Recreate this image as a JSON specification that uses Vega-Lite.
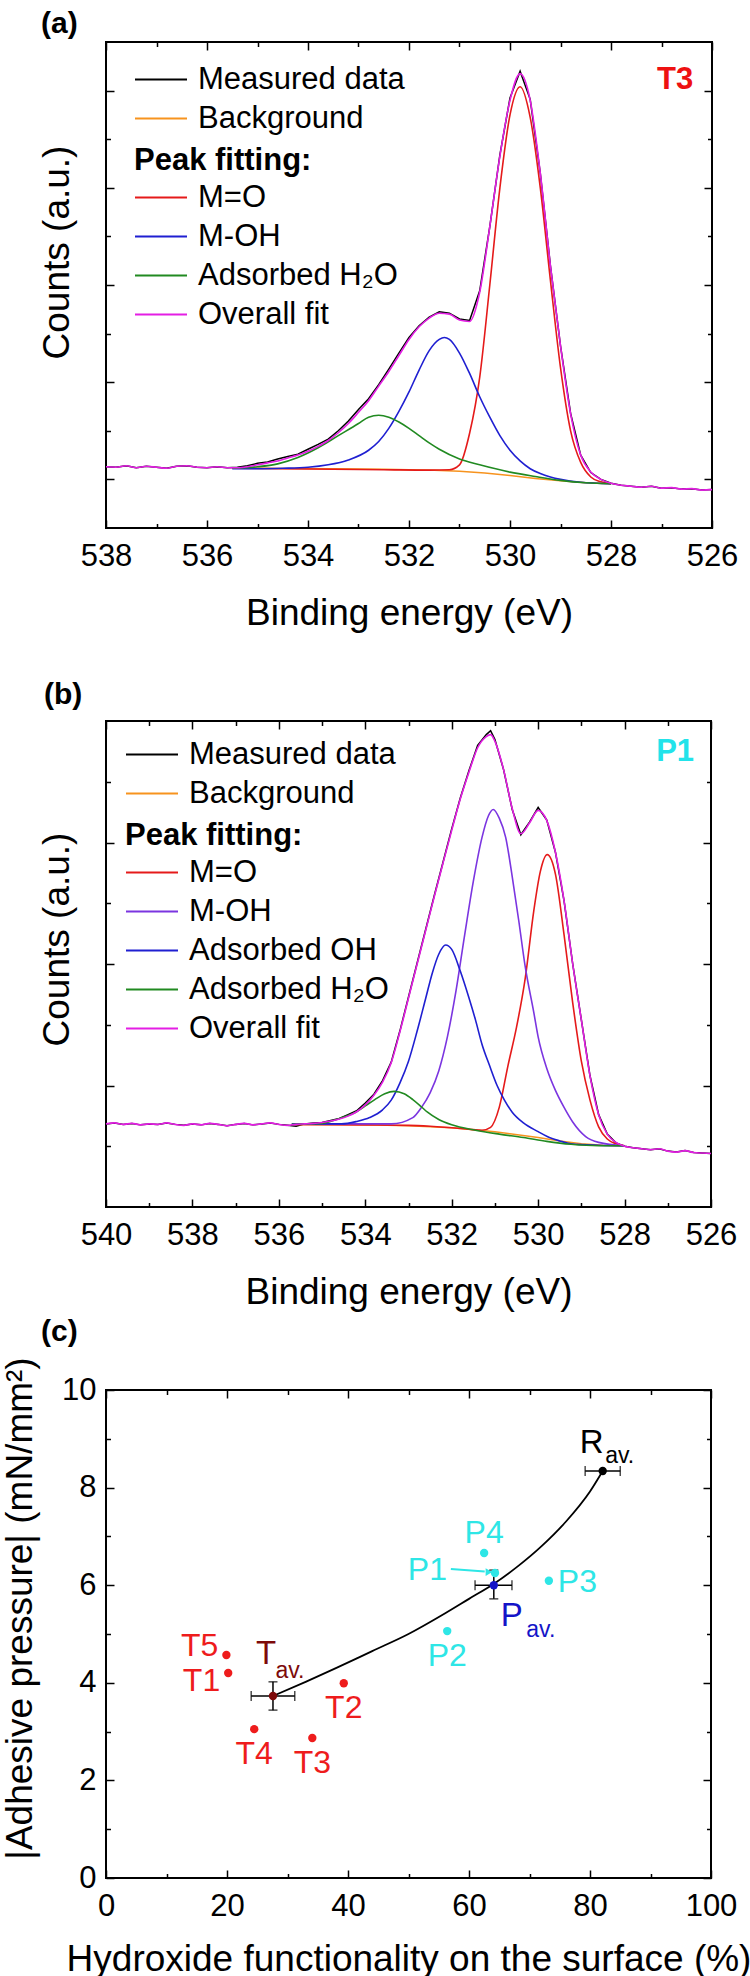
{
  "$schema": "https://vega.github.io/schema/vega-lite/v6.json",
  "padding": {"left": 0, "top": 8, "right": 5, "bottom": 5},
  "background": "white",
  "config": {
    "font": "Liberation Sans",
    "view": {"stroke": "black", "strokeWidth": 2},
    "axis": {
      "domain": false, "grid": false, "ticks": true,
      "tickColor": "black", "tickWidth": 1.5,
      "labelColor": "black", "labelFontSize": 31, "labelFont": "Liberation Sans",
      "labelFlush": false, "labelOverlap": false,
      "titleColor": "black", "titleFontSize": 37, "titleFont": "Liberation Sans", "titleFontWeight": "normal"
    },
    "legend": {"labelFont": "Liberation Sans", "titleFont": "Liberation Sans", "labelColor": "black", "titleColor": "black"},
    "title": {"font": "Liberation Sans", "color": "black"}
  },
  "datasets": {
    "a": [
      {"e":538.0,"v":1.26,"s":"Measured data"},{"e":537.8,"v":1.25,"s":"Measured data"},{"e":537.6,"v":1.28,"s":"Measured data"},{"e":537.4,"v":1.24,"s":"Measured data"},
      {"e":537.2,"v":1.27,"s":"Measured data"},{"e":537.0,"v":1.25,"s":"Measured data"},{"e":536.8,"v":1.23,"s":"Measured data"},{"e":536.6,"v":1.27,"s":"Measured data"},
      {"e":536.4,"v":1.28,"s":"Measured data"},{"e":536.2,"v":1.25,"s":"Measured data"},{"e":536.0,"v":1.24,"s":"Measured data"},{"e":535.8,"v":1.26,"s":"Measured data"},
      {"e":535.6,"v":1.24,"s":"Measured data"},{"e":535.4,"v":1.25,"s":"Measured data"},{"e":535.2,"v":1.28,"s":"Measured data"},{"e":535.0,"v":1.33,"s":"Measured data"},
      {"e":534.8,"v":1.36,"s":"Measured data"},{"e":534.6,"v":1.42,"s":"Measured data"},{"e":534.4,"v":1.47,"s":"Measured data"},{"e":534.2,"v":1.52,"s":"Measured data"},
      {"e":534.0,"v":1.62,"s":"Measured data"},{"e":533.8,"v":1.72,"s":"Measured data"},{"e":533.6,"v":1.83,"s":"Measured data"},{"e":533.4,"v":2.0,"s":"Measured data"},
      {"e":533.2,"v":2.2,"s":"Measured data"},{"e":533.0,"v":2.44,"s":"Measured data"},{"e":532.8,"v":2.66,"s":"Measured data"},{"e":532.6,"v":2.95,"s":"Measured data"},
      {"e":532.4,"v":3.27,"s":"Measured data"},{"e":532.2,"v":3.6,"s":"Measured data"},{"e":532.0,"v":3.92,"s":"Measured data"},{"e":531.8,"v":4.16,"s":"Measured data"},
      {"e":531.6,"v":4.34,"s":"Measured data"},{"e":531.4,"v":4.45,"s":"Measured data"},{"e":531.2,"v":4.42,"s":"Measured data"},{"e":531.0,"v":4.3,"s":"Measured data"},
      {"e":530.8,"v":4.27,"s":"Measured data"},{"e":530.6,"v":4.88,"s":"Measured data"},{"e":530.4,"v":6.2,"s":"Measured data"},{"e":530.2,"v":7.68,"s":"Measured data"},
      {"e":530.0,"v":8.85,"s":"Measured data"},{"e":529.8,"v":9.4,"s":"Measured data"},{"e":529.6,"v":8.82,"s":"Measured data"},{"e":529.4,"v":7.3,"s":"Measured data"},
      {"e":529.2,"v":5.4,"s":"Measured data"},{"e":529.0,"v":3.75,"s":"Measured data"},{"e":528.8,"v":2.36,"s":"Measured data"},{"e":528.6,"v":1.5,"s":"Measured data"},
      {"e":528.4,"v":1.14,"s":"Measured data"},{"e":528.2,"v":1.0,"s":"Measured data"},{"e":528.0,"v":0.92,"s":"Measured data"},{"e":527.8,"v":0.88,"s":"Measured data"},
      {"e":527.6,"v":0.86,"s":"Measured data"},{"e":527.4,"v":0.84,"s":"Measured data"},{"e":527.2,"v":0.86,"s":"Measured data"},{"e":527.0,"v":0.82,"s":"Measured data"},
      {"e":526.8,"v":0.83,"s":"Measured data"},{"e":526.6,"v":0.8,"s":"Measured data"},{"e":526.4,"v":0.81,"s":"Measured data"},{"e":526.2,"v":0.78,"s":"Measured data"},
      {"e":526.0,"v":0.79,"s":"Measured data"},

      {"e":535.5,"v":1.23,"s":"Background"},{"e":534.5,"v":1.225,"s":"Background"},{"e":533.5,"v":1.22,"s":"Background"},{"e":532.5,"v":1.21,"s":"Background"},
      {"e":531.5,"v":1.19,"s":"Background"},{"e":531.0,"v":1.17,"s":"Background"},{"e":530.5,"v":1.13,"s":"Background"},{"e":530.0,"v":1.08,"s":"Background"},
      {"e":529.5,"v":1.02,"s":"Background"},{"e":529.0,"v":0.97,"s":"Background"},{"e":528.5,"v":0.93,"s":"Background"},{"e":528.0,"v":0.91,"s":"Background"},

      {"e":535.5,"v":1.23,"s":"M=O"},{"e":534.5,"v":1.22,"s":"M=O"},{"e":533.5,"v":1.21,"s":"M=O"},{"e":532.5,"v":1.2,"s":"M=O"},
      {"e":531.6,"v":1.19,"s":"M=O"},{"e":531.2,"v":1.2,"s":"M=O"},{"e":531.0,"v":1.3,"s":"M=O"},{"e":530.8,"v":1.95,"s":"M=O"},
      {"e":530.6,"v":3.1,"s":"M=O"},{"e":530.4,"v":5.0,"s":"M=O"},{"e":530.2,"v":7.0,"s":"M=O"},{"e":530.0,"v":8.5,"s":"M=O"},
      {"e":529.8,"v":9.08,"s":"M=O"},{"e":529.6,"v":8.45,"s":"M=O"},{"e":529.4,"v":7.0,"s":"M=O"},{"e":529.2,"v":5.1,"s":"M=O"},
      {"e":529.0,"v":3.3,"s":"M=O"},{"e":528.8,"v":2.0,"s":"M=O"},{"e":528.6,"v":1.35,"s":"M=O"},{"e":528.4,"v":1.05,"s":"M=O"},
      {"e":528.2,"v":0.95,"s":"M=O"},{"e":528.0,"v":0.91,"s":"M=O"},

      {"e":535.5,"v":1.22,"s":"M-OH"},{"e":535.0,"v":1.22,"s":"M-OH"},{"e":534.5,"v":1.23,"s":"M-OH"},{"e":534.0,"v":1.25,"s":"M-OH"},
      {"e":533.6,"v":1.3,"s":"M-OH"},{"e":533.2,"v":1.4,"s":"M-OH"},{"e":532.8,"v":1.6,"s":"M-OH"},{"e":532.6,"v":1.78,"s":"M-OH"},
      {"e":532.4,"v":2.05,"s":"M-OH"},{"e":532.2,"v":2.4,"s":"M-OH"},{"e":532.0,"v":2.8,"s":"M-OH"},{"e":531.8,"v":3.25,"s":"M-OH"},
      {"e":531.6,"v":3.65,"s":"M-OH"},{"e":531.4,"v":3.88,"s":"M-OH"},{"e":531.3,"v":3.92,"s":"M-OH"},{"e":531.2,"v":3.88,"s":"M-OH"},
      {"e":531.0,"v":3.6,"s":"M-OH"},{"e":530.8,"v":3.18,"s":"M-OH"},{"e":530.6,"v":2.7,"s":"M-OH"},{"e":530.4,"v":2.28,"s":"M-OH"},
      {"e":530.2,"v":1.9,"s":"M-OH"},{"e":530.0,"v":1.6,"s":"M-OH"},{"e":529.8,"v":1.38,"s":"M-OH"},{"e":529.6,"v":1.22,"s":"M-OH"},
      {"e":529.4,"v":1.12,"s":"M-OH"},{"e":529.2,"v":1.05,"s":"M-OH"},{"e":529.0,"v":1.0,"s":"M-OH"},{"e":528.6,"v":0.94,"s":"M-OH"},
      {"e":528.0,"v":0.91,"s":"M-OH"},

      {"e":535.5,"v":1.23,"s":"Adsorbed H₂O"},{"e":535.0,"v":1.26,"s":"Adsorbed H₂O"},{"e":534.6,"v":1.32,"s":"Adsorbed H₂O"},{"e":534.2,"v":1.45,"s":"Adsorbed H₂O"},
      {"e":533.8,"v":1.65,"s":"Adsorbed H₂O"},{"e":533.4,"v":1.9,"s":"Adsorbed H₂O"},{"e":533.0,"v":2.15,"s":"Adsorbed H₂O"},{"e":532.8,"v":2.28,"s":"Adsorbed H₂O"},
      {"e":532.6,"v":2.32,"s":"Adsorbed H₂O"},{"e":532.4,"v":2.28,"s":"Adsorbed H₂O"},{"e":532.2,"v":2.18,"s":"Adsorbed H₂O"},{"e":532.0,"v":2.05,"s":"Adsorbed H₂O"},
      {"e":531.8,"v":1.9,"s":"Adsorbed H₂O"},{"e":531.6,"v":1.75,"s":"Adsorbed H₂O"},{"e":531.4,"v":1.62,"s":"Adsorbed H₂O"},{"e":531.0,"v":1.42,"s":"Adsorbed H₂O"},
      {"e":530.6,"v":1.3,"s":"Adsorbed H₂O"},{"e":530.0,"v":1.15,"s":"Adsorbed H₂O"},{"e":529.5,"v":1.06,"s":"Adsorbed H₂O"},{"e":529.0,"v":0.98,"s":"Adsorbed H₂O"},
      {"e":528.5,"v":0.93,"s":"Adsorbed H₂O"},{"e":528.0,"v":0.91,"s":"Adsorbed H₂O"},

      {"e":538.0,"v":1.26,"s":"Overall fit"},{"e":537.8,"v":1.25,"s":"Overall fit"},{"e":537.6,"v":1.28,"s":"Overall fit"},{"e":537.4,"v":1.24,"s":"Overall fit"},
      {"e":537.2,"v":1.27,"s":"Overall fit"},{"e":537.0,"v":1.25,"s":"Overall fit"},{"e":536.8,"v":1.23,"s":"Overall fit"},{"e":536.6,"v":1.27,"s":"Overall fit"},
      {"e":536.4,"v":1.28,"s":"Overall fit"},{"e":536.2,"v":1.25,"s":"Overall fit"},{"e":536.0,"v":1.24,"s":"Overall fit"},{"e":535.8,"v":1.26,"s":"Overall fit"},
      {"e":535.6,"v":1.24,"s":"Overall fit"},{"e":535.4,"v":1.24,"s":"Overall fit"},{"e":535.2,"v":1.26,"s":"Overall fit"},{"e":535.0,"v":1.3,"s":"Overall fit"},
      {"e":534.8,"v":1.34,"s":"Overall fit"},{"e":534.6,"v":1.38,"s":"Overall fit"},{"e":534.4,"v":1.44,"s":"Overall fit"},{"e":534.2,"v":1.5,"s":"Overall fit"},
      {"e":534.0,"v":1.58,"s":"Overall fit"},{"e":533.8,"v":1.68,"s":"Overall fit"},{"e":533.6,"v":1.8,"s":"Overall fit"},{"e":533.4,"v":1.96,"s":"Overall fit"},
      {"e":533.2,"v":2.15,"s":"Overall fit"},{"e":533.0,"v":2.38,"s":"Overall fit"},{"e":532.8,"v":2.62,"s":"Overall fit"},{"e":532.6,"v":2.92,"s":"Overall fit"},
      {"e":532.4,"v":3.22,"s":"Overall fit"},{"e":532.2,"v":3.55,"s":"Overall fit"},{"e":532.0,"v":3.88,"s":"Overall fit"},{"e":531.8,"v":4.14,"s":"Overall fit"},
      {"e":531.6,"v":4.32,"s":"Overall fit"},{"e":531.4,"v":4.42,"s":"Overall fit"},{"e":531.2,"v":4.4,"s":"Overall fit"},{"e":531.0,"v":4.28,"s":"Overall fit"},
      {"e":530.8,"v":4.25,"s":"Overall fit"},{"e":530.6,"v":4.85,"s":"Overall fit"},{"e":530.4,"v":6.2,"s":"Overall fit"},{"e":530.2,"v":7.65,"s":"Overall fit"},
      {"e":530.0,"v":8.8,"s":"Overall fit"},{"e":529.8,"v":9.35,"s":"Overall fit"},{"e":529.6,"v":8.8,"s":"Overall fit"},{"e":529.4,"v":7.3,"s":"Overall fit"},
      {"e":529.2,"v":5.4,"s":"Overall fit"},{"e":529.0,"v":3.75,"s":"Overall fit"},{"e":528.8,"v":2.35,"s":"Overall fit"},{"e":528.6,"v":1.5,"s":"Overall fit"},
      {"e":528.4,"v":1.15,"s":"Overall fit"},{"e":528.2,"v":1.0,"s":"Overall fit"},{"e":528.0,"v":0.92,"s":"Overall fit"},{"e":527.8,"v":0.88,"s":"Overall fit"},
      {"e":527.6,"v":0.86,"s":"Overall fit"},{"e":527.4,"v":0.84,"s":"Overall fit"},{"e":527.2,"v":0.86,"s":"Overall fit"},{"e":527.0,"v":0.82,"s":"Overall fit"},
      {"e":526.8,"v":0.83,"s":"Overall fit"},{"e":526.6,"v":0.8,"s":"Overall fit"},{"e":526.4,"v":0.81,"s":"Overall fit"},{"e":526.2,"v":0.78,"s":"Overall fit"},
      {"e":526.0,"v":0.79,"s":"Overall fit"}
    ],
    "b": [
      {"e":540.0,"v":1.71,"s":"Measured data"},{"e":539.8,"v":1.73,"s":"Measured data"},{"e":539.6,"v":1.7,"s":"Measured data"},{"e":539.4,"v":1.72,"s":"Measured data"},
      {"e":539.2,"v":1.69,"s":"Measured data"},{"e":539.0,"v":1.71,"s":"Measured data"},{"e":538.8,"v":1.7,"s":"Measured data"},{"e":538.6,"v":1.73,"s":"Measured data"},
      {"e":538.4,"v":1.7,"s":"Measured data"},{"e":538.2,"v":1.68,"s":"Measured data"},{"e":538.0,"v":1.71,"s":"Measured data"},{"e":537.8,"v":1.69,"s":"Measured data"},
      {"e":537.6,"v":1.72,"s":"Measured data"},{"e":537.4,"v":1.7,"s":"Measured data"},{"e":537.2,"v":1.67,"s":"Measured data"},{"e":537.0,"v":1.7,"s":"Measured data"},
      {"e":536.8,"v":1.72,"s":"Measured data"},{"e":536.6,"v":1.69,"s":"Measured data"},{"e":536.4,"v":1.71,"s":"Measured data"},{"e":536.2,"v":1.73,"s":"Measured data"},
      {"e":536.0,"v":1.7,"s":"Measured data"},{"e":535.8,"v":1.68,"s":"Measured data"},{"e":535.6,"v":1.66,"s":"Measured data"},{"e":535.4,"v":1.71,"s":"Measured data"},
      {"e":535.2,"v":1.73,"s":"Measured data"},{"e":535.0,"v":1.74,"s":"Measured data"},{"e":534.8,"v":1.78,"s":"Measured data"},{"e":534.6,"v":1.82,"s":"Measured data"},
      {"e":534.4,"v":1.9,"s":"Measured data"},{"e":534.2,"v":1.98,"s":"Measured data"},{"e":534.0,"v":2.14,"s":"Measured data"},{"e":533.8,"v":2.32,"s":"Measured data"},
      {"e":533.6,"v":2.6,"s":"Measured data"},{"e":533.4,"v":2.98,"s":"Measured data"},{"e":533.2,"v":3.62,"s":"Measured data"},{"e":533.0,"v":4.32,"s":"Measured data"},
      {"e":532.8,"v":5.02,"s":"Measured data"},{"e":532.6,"v":5.72,"s":"Measured data"},{"e":532.4,"v":6.42,"s":"Measured data"},{"e":532.2,"v":7.1,"s":"Measured data"},
      {"e":532.0,"v":7.78,"s":"Measured data"},{"e":531.8,"v":8.42,"s":"Measured data"},{"e":531.6,"v":8.98,"s":"Measured data"},{"e":531.4,"v":9.5,"s":"Measured data"},
      {"e":531.2,"v":9.72,"s":"Measured data"},{"e":531.1,"v":9.8,"s":"Measured data"},{"e":531.0,"v":9.62,"s":"Measured data"},{"e":530.8,"v":9.0,"s":"Measured data"},
      {"e":530.6,"v":8.18,"s":"Measured data"},{"e":530.4,"v":7.66,"s":"Measured data"},{"e":530.2,"v":7.92,"s":"Measured data"},{"e":530.0,"v":8.22,"s":"Measured data"},
      {"e":529.8,"v":7.96,"s":"Measured data"},{"e":529.6,"v":7.3,"s":"Measured data"},{"e":529.4,"v":6.3,"s":"Measured data"},{"e":529.2,"v":5.0,"s":"Measured data"},
      {"e":529.0,"v":3.85,"s":"Measured data"},{"e":528.8,"v":2.7,"s":"Measured data"},{"e":528.6,"v":1.9,"s":"Measured data"},{"e":528.4,"v":1.5,"s":"Measured data"},
      {"e":528.2,"v":1.32,"s":"Measured data"},{"e":528.0,"v":1.25,"s":"Measured data"},{"e":527.8,"v":1.22,"s":"Measured data"},{"e":527.6,"v":1.2,"s":"Measured data"},
      {"e":527.4,"v":1.18,"s":"Measured data"},{"e":527.2,"v":1.2,"s":"Measured data"},{"e":527.0,"v":1.15,"s":"Measured data"},{"e":526.8,"v":1.13,"s":"Measured data"},
      {"e":526.6,"v":1.16,"s":"Measured data"},{"e":526.4,"v":1.12,"s":"Measured data"},{"e":526.2,"v":1.11,"s":"Measured data"},{"e":526.0,"v":1.1,"s":"Measured data"},

      {"e":535.7,"v":1.7,"s":"Background"},{"e":534.0,"v":1.69,"s":"Background"},{"e":533.0,"v":1.67,"s":"Background"},{"e":532.0,"v":1.63,"s":"Background"},
      {"e":531.0,"v":1.55,"s":"Background"},{"e":530.0,"v":1.43,"s":"Background"},{"e":529.5,"v":1.36,"s":"Background"},{"e":529.0,"v":1.3,"s":"Background"},
      {"e":528.5,"v":1.27,"s":"Background"},{"e":528.0,"v":1.26,"s":"Background"},

      {"e":535.7,"v":1.7,"s":"M=O"},{"e":534.0,"v":1.69,"s":"M=O"},{"e":533.0,"v":1.68,"s":"M=O"},{"e":532.5,"v":1.66,"s":"M=O"},
      {"e":532.0,"v":1.63,"s":"M=O"},{"e":531.6,"v":1.6,"s":"M=O"},{"e":531.3,"v":1.58,"s":"M=O"},{"e":531.1,"v":1.64,"s":"M=O"},
      {"e":530.9,"v":2.05,"s":"M=O"},{"e":530.7,"v":2.9,"s":"M=O"},{"e":530.5,"v":3.7,"s":"M=O"},{"e":530.3,"v":4.7,"s":"M=O"},
      {"e":530.1,"v":6.1,"s":"M=O"},{"e":529.95,"v":6.9,"s":"M=O"},{"e":529.79,"v":7.25,"s":"M=O"},{"e":529.6,"v":6.85,"s":"M=O"},
      {"e":529.4,"v":5.6,"s":"M=O"},{"e":529.2,"v":4.2,"s":"M=O"},{"e":529.0,"v":3.0,"s":"M=O"},{"e":528.8,"v":2.2,"s":"M=O"},
      {"e":528.6,"v":1.65,"s":"M=O"},{"e":528.4,"v":1.4,"s":"M=O"},{"e":528.2,"v":1.3,"s":"M=O"},{"e":528.0,"v":1.26,"s":"M=O"},

      {"e":535.7,"v":1.71,"s":"M-OH"},{"e":534.0,"v":1.71,"s":"M-OH"},{"e":533.4,"v":1.71,"s":"M-OH"},{"e":532.9,"v":1.84,"s":"M-OH"},
      {"e":532.7,"v":2.05,"s":"M-OH"},{"e":532.5,"v":2.35,"s":"M-OH"},{"e":532.3,"v":2.8,"s":"M-OH"},{"e":532.1,"v":3.5,"s":"M-OH"},
      {"e":531.9,"v":4.45,"s":"M-OH"},{"e":531.7,"v":5.6,"s":"M-OH"},{"e":531.5,"v":6.7,"s":"M-OH"},{"e":531.3,"v":7.6,"s":"M-OH"},
      {"e":531.15,"v":8.05,"s":"M-OH"},{"e":531.04,"v":8.18,"s":"M-OH"},{"e":530.9,"v":8.0,"s":"M-OH"},{"e":530.75,"v":7.6,"s":"M-OH"},
      {"e":530.6,"v":6.8,"s":"M-OH"},{"e":530.45,"v":5.9,"s":"M-OH"},{"e":530.3,"v":4.95,"s":"M-OH"},{"e":530.1,"v":4.0,"s":"M-OH"},
      {"e":530.0,"v":3.5,"s":"M-OH"},{"e":529.8,"v":2.85,"s":"M-OH"},{"e":529.6,"v":2.4,"s":"M-OH"},{"e":529.4,"v":2.05,"s":"M-OH"},
      {"e":529.2,"v":1.75,"s":"M-OH"},{"e":528.9,"v":1.45,"s":"M-OH"},{"e":528.6,"v":1.33,"s":"M-OH"},{"e":528.0,"v":1.26,"s":"M-OH"},

      {"e":535.7,"v":1.7,"s":"Adsorbed OH"},{"e":535.0,"v":1.71,"s":"Adsorbed OH"},{"e":534.55,"v":1.71,"s":"Adsorbed OH"},{"e":534.2,"v":1.76,"s":"Adsorbed OH"},
      {"e":533.9,"v":1.84,"s":"Adsorbed OH"},{"e":533.6,"v":2.0,"s":"Adsorbed OH"},{"e":533.4,"v":2.2,"s":"Adsorbed OH"},{"e":533.2,"v":2.55,"s":"Adsorbed OH"},
      {"e":533.0,"v":3.0,"s":"Adsorbed OH"},{"e":532.8,"v":3.62,"s":"Adsorbed OH"},{"e":532.6,"v":4.3,"s":"Adsorbed OH"},{"e":532.45,"v":4.81,"s":"Adsorbed OH"},
      {"e":532.3,"v":5.2,"s":"Adsorbed OH"},{"e":532.14,"v":5.39,"s":"Adsorbed OH"},{"e":532.0,"v":5.3,"s":"Adsorbed OH"},{"e":531.8,"v":4.85,"s":"Adsorbed OH"},
      {"e":531.6,"v":4.3,"s":"Adsorbed OH"},{"e":531.45,"v":3.85,"s":"Adsorbed OH"},{"e":531.3,"v":3.35,"s":"Adsorbed OH"},{"e":531.12,"v":2.9,"s":"Adsorbed OH"},
      {"e":530.95,"v":2.5,"s":"Adsorbed OH"},{"e":530.78,"v":2.2,"s":"Adsorbed OH"},{"e":530.6,"v":1.95,"s":"Adsorbed OH"},{"e":530.34,"v":1.73,"s":"Adsorbed OH"},
      {"e":530.0,"v":1.55,"s":"Adsorbed OH"},{"e":529.79,"v":1.45,"s":"Adsorbed OH"},{"e":529.5,"v":1.36,"s":"Adsorbed OH"},{"e":529.24,"v":1.3,"s":"Adsorbed OH"},
      {"e":528.6,"v":1.27,"s":"Adsorbed OH"},{"e":528.0,"v":1.26,"s":"Adsorbed OH"},

      {"e":535.7,"v":1.7,"s":"Adsorbed H₂O"},{"e":535.0,"v":1.72,"s":"Adsorbed H₂O"},{"e":534.77,"v":1.77,"s":"Adsorbed H₂O"},{"e":534.5,"v":1.85,"s":"Adsorbed H₂O"},
      {"e":534.22,"v":1.95,"s":"Adsorbed H₂O"},{"e":534.0,"v":2.08,"s":"Adsorbed H₂O"},{"e":533.78,"v":2.21,"s":"Adsorbed H₂O"},{"e":533.55,"v":2.33,"s":"Adsorbed H₂O"},
      {"e":533.33,"v":2.38,"s":"Adsorbed H₂O"},{"e":533.1,"v":2.33,"s":"Adsorbed H₂O"},{"e":532.9,"v":2.21,"s":"Adsorbed H₂O"},{"e":532.7,"v":2.06,"s":"Adsorbed H₂O"},
      {"e":532.56,"v":1.95,"s":"Adsorbed H₂O"},{"e":532.3,"v":1.8,"s":"Adsorbed H₂O"},{"e":532.0,"v":1.69,"s":"Adsorbed H₂O"},{"e":531.45,"v":1.58,"s":"Adsorbed H₂O"},
      {"e":530.9,"v":1.5,"s":"Adsorbed H₂O"},{"e":530.34,"v":1.43,"s":"Adsorbed H₂O"},{"e":529.8,"v":1.35,"s":"Adsorbed H₂O"},{"e":529.24,"v":1.29,"s":"Adsorbed H₂O"},
      {"e":528.6,"v":1.26,"s":"Adsorbed H₂O"},{"e":528.0,"v":1.26,"s":"Adsorbed H₂O"},

      {"e":540.0,"v":1.71,"s":"Overall fit"},{"e":539.8,"v":1.73,"s":"Overall fit"},{"e":539.6,"v":1.7,"s":"Overall fit"},{"e":539.4,"v":1.72,"s":"Overall fit"},
      {"e":539.2,"v":1.69,"s":"Overall fit"},{"e":539.0,"v":1.71,"s":"Overall fit"},{"e":538.8,"v":1.7,"s":"Overall fit"},{"e":538.6,"v":1.73,"s":"Overall fit"},
      {"e":538.4,"v":1.7,"s":"Overall fit"},{"e":538.2,"v":1.68,"s":"Overall fit"},{"e":538.0,"v":1.71,"s":"Overall fit"},{"e":537.8,"v":1.69,"s":"Overall fit"},
      {"e":537.6,"v":1.72,"s":"Overall fit"},{"e":537.4,"v":1.7,"s":"Overall fit"},{"e":537.2,"v":1.67,"s":"Overall fit"},{"e":537.0,"v":1.7,"s":"Overall fit"},
      {"e":536.8,"v":1.72,"s":"Overall fit"},{"e":536.6,"v":1.69,"s":"Overall fit"},{"e":536.4,"v":1.71,"s":"Overall fit"},{"e":536.2,"v":1.73,"s":"Overall fit"},
      {"e":536.0,"v":1.7,"s":"Overall fit"},{"e":535.8,"v":1.68,"s":"Overall fit"},{"e":535.6,"v":1.7,"s":"Overall fit"},{"e":535.4,"v":1.71,"s":"Overall fit"},
      {"e":535.2,"v":1.72,"s":"Overall fit"},{"e":535.0,"v":1.74,"s":"Overall fit"},{"e":534.8,"v":1.77,"s":"Overall fit"},{"e":534.6,"v":1.81,"s":"Overall fit"},
      {"e":534.4,"v":1.87,"s":"Overall fit"},{"e":534.2,"v":1.96,"s":"Overall fit"},{"e":534.0,"v":2.1,"s":"Overall fit"},{"e":533.8,"v":2.3,"s":"Overall fit"},
      {"e":533.6,"v":2.57,"s":"Overall fit"},{"e":533.4,"v":2.97,"s":"Overall fit"},{"e":533.2,"v":3.6,"s":"Overall fit"},{"e":533.0,"v":4.3,"s":"Overall fit"},
      {"e":532.8,"v":5.0,"s":"Overall fit"},{"e":532.6,"v":5.7,"s":"Overall fit"},{"e":532.4,"v":6.4,"s":"Overall fit"},{"e":532.2,"v":7.08,"s":"Overall fit"},
      {"e":532.0,"v":7.75,"s":"Overall fit"},{"e":531.8,"v":8.4,"s":"Overall fit"},{"e":531.6,"v":8.95,"s":"Overall fit"},{"e":531.4,"v":9.45,"s":"Overall fit"},
      {"e":531.2,"v":9.68,"s":"Overall fit"},{"e":531.1,"v":9.72,"s":"Overall fit"},{"e":531.0,"v":9.58,"s":"Overall fit"},{"e":530.8,"v":9.0,"s":"Overall fit"},
      {"e":530.6,"v":8.2,"s":"Overall fit"},{"e":530.4,"v":7.68,"s":"Overall fit"},{"e":530.2,"v":7.9,"s":"Overall fit"},{"e":530.0,"v":8.16,"s":"Overall fit"},
      {"e":529.8,"v":7.95,"s":"Overall fit"},{"e":529.6,"v":7.3,"s":"Overall fit"},{"e":529.4,"v":6.3,"s":"Overall fit"},{"e":529.2,"v":5.0,"s":"Overall fit"},
      {"e":529.0,"v":3.85,"s":"Overall fit"},{"e":528.8,"v":2.7,"s":"Overall fit"},{"e":528.6,"v":1.9,"s":"Overall fit"},{"e":528.4,"v":1.5,"s":"Overall fit"},
      {"e":528.2,"v":1.33,"s":"Overall fit"},{"e":528.0,"v":1.25,"s":"Overall fit"},{"e":527.8,"v":1.22,"s":"Overall fit"},{"e":527.6,"v":1.2,"s":"Overall fit"},
      {"e":527.4,"v":1.18,"s":"Overall fit"},{"e":527.2,"v":1.2,"s":"Overall fit"},{"e":527.0,"v":1.15,"s":"Overall fit"},{"e":526.8,"v":1.13,"s":"Overall fit"},
      {"e":526.6,"v":1.16,"s":"Overall fit"},{"e":526.4,"v":1.12,"s":"Overall fit"},{"e":526.2,"v":1.11,"s":"Overall fit"},{"e":526.0,"v":1.1,"s":"Overall fit"}
    ],
    "pts": [
      {"id":"T5","g":"T","x":19.9,"y":4.57},
      {"id":"T1","g":"T","x":20.2,"y":4.2},
      {"id":"T4","g":"T","x":24.5,"y":3.05},
      {"id":"T3","g":"T","x":34.1,"y":2.87},
      {"id":"T2","g":"T","x":39.3,"y":3.99},
      {"id":"P2","g":"P","x":56.4,"y":5.06},
      {"id":"P4","g":"P","x":62.5,"y":6.66},
      {"id":"P1","g":"P","x":64.3,"y":6.25},
      {"id":"P3","g":"P","x":73.2,"y":6.09}
    ],
    "avg": [
      {"id":"Tav","g":"Tav","letter":"T","x":27.6,"y":3.73,"xlo":24.0,"xhi":31.2,"ylo":3.44,"yhi":4.02},
      {"id":"Pav","g":"Pav","letter":"P","x":64.1,"y":6.0,"xlo":61.0,"xhi":67.1,"ylo":5.72,"yhi":6.31},
      {"id":"Rav","g":"Rav","letter":"R","x":82.1,"y":8.34,"xlo":79.2,"xhi":85.0,"ylo":8.34,"yhi":8.34}
    ],
    "fit": [
      {"x":27.6,"y":3.73},{"x":33.0,"y":4.02},{"x":38.0,"y":4.3},{"x":44.0,"y":4.65},
      {"x":50.0,"y":5.0},{"x":56.0,"y":5.42},{"x":60.0,"y":5.72},{"x":64.0,"y":6.02},
      {"x":68.0,"y":6.38},{"x":72.0,"y":6.8},{"x":76.0,"y":7.3},{"x":80.0,"y":7.92},
      {"x":82.1,"y":8.34}
    ],
    "arrow": [
      {"x":57.0,"y":6.33,"x2":62.6,"y2":6.28,"hx":63.3,"hy":6.27}
    ]
  },
  "spacing": 193,
  "bounds": "flush",
  "resolve": {"scale": {"color": "independent", "stroke": "independent"}},
  "vconcat": [
    {
      "title": {"text": "(a)", "anchor": "start", "frame": "group", "dx": -65, "offset": 2, "fontSize": 30, "fontWeight": "bold"},
      "width": 606,
      "height": 486,
      "data": {"name": "a"},
      "resolve": {"axis": {"x": "independent", "y": "independent"}},
      "layer": [
        {
          "transform": [{"filter": "datum.s === 'Measured data' || datum.s === 'Background'"}],
          "mark": {"type": "line", "strokeWidth": 1.5},
          "encoding": {
            "x": {"field": "e", "type": "quantitative",
              "scale": {"domain": [526, 538], "reverse": true, "nice": false, "zero": false},
              "axis": {"orient": "bottom", "title": "Binding energy (eV)", "values": [526,527,528,529,530,531,532,533,534,535,536,537,538],
                "tickSize": {"condition": {"test": "datum.value % 2 === 0", "value": -8}, "value": -4.5},
                "labelExpr": "datum.value % 2 === 0 ? datum.label : ''", "labelPadding": 21, "titlePadding": 21}},
            "y": {"field": "v", "type": "quantitative",
              "scale": {"domain": [0, 10], "nice": false, "zero": false},
              "axis": {"orient": "left", "title": "Counts (a.u.)", "values": [1,2,3,4,5,6,7,8,9], "labels": false, "titlePadding": 29, "titleY": 210,
                "tickSize": {"condition": {"test": "datum.value % 2 === 1", "value": -8}, "value": -4.5}}},
            "color": {"field": "s", "type": "nominal",
              "scale": {"domain": ["Measured data", "Background"], "range": ["#000000", "#f7931e"]},
              "legend": {"orient": "none", "legendX": 28, "legendY": 21, "title": null, "symbolType": "stroke", "symbolSize": 2704,
                "symbolStrokeWidth": 2, "labelFontSize": 31, "labelOffset": 10, "labelLimit": 400, "clipHeight": 33, "rowPadding": 6, "padding": 0}}
          }
        },
        {
          "transform": [{"filter": "datum.s !== 'Measured data' && datum.s !== 'Background'"}],
          "mark": {"type": "line", "strokeWidth": 1.6, "interpolate": "monotone"},
          "encoding": {
            "x": {"field": "e", "type": "quantitative",
              "scale": {"domain": [526, 538], "reverse": true, "nice": false, "zero": false},
              "axis": {"orient": "top", "title": null, "labels": false, "values": [526,527,528,529,530,531,532,533,534,535,536,537,538],
                "tickSize": {"condition": {"test": "datum.value % 2 === 0", "value": -8}, "value": -4.5}}},
            "y": {"field": "v", "type": "quantitative",
              "scale": {"domain": [0, 10], "nice": false, "zero": false},
              "axis": {"orient": "right", "title": null, "labels": false, "values": [1,2,3,4,5,6,7,8,9],
                "tickSize": {"condition": {"test": "datum.value % 2 === 1", "value": -8}, "value": -4.5}}},
            "stroke": {"field": "s", "type": "nominal",
              "scale": {"domain": ["M=O", "M-OH", "Adsorbed H₂O", "Overall fit"], "range": ["#e51a1a", "#1f1fd1", "#218a21", "#e41ee4"]},
              "legend": {"orient": "none", "legendX": 28, "legendY": 104, "title": "Peak fitting:", "titleFontSize": 31, "titleFontWeight": "bold",
                "titlePadding": 4, "titleLimit": 400, "symbolType": "stroke", "symbolSize": 2704, "symbolStrokeWidth": 2,
                "labelFontSize": 31, "labelOffset": 10, "labelLimit": 400, "clipHeight": 33, "rowPadding": 6, "padding": 0}}
          }
        },
        {
          "data": {"values": [{}]},
          "mark": {"type": "text", "text": "T3", "fontSize": 31, "fontWeight": "bold", "color": "#ee1111", "align": "center", "baseline": "middle"},
          "encoding": {
            "x": {"datum": 526.73, "type": "quantitative", "axis": null},
            "y": {"datum": 9.22, "type": "quantitative", "axis": null}
          }
        }
      ]
    },
    {
      "spacing": 183,
      "bounds": "flush",
      "resolve": {"scale": {"color": "independent", "stroke": "independent"}},
      "vconcat": [
        {
          "title": {"text": "(b)", "anchor": "start", "frame": "group", "dx": -62, "offset": 10, "fontSize": 30, "fontWeight": "bold"},
          "width": 605,
          "height": 486,
          "data": {"name": "b"},
          "resolve": {"axis": {"x": "independent", "y": "independent"}},
          "layer": [
            {
              "transform": [{"filter": "datum.s === 'Measured data' || datum.s === 'Background'"}],
              "mark": {"type": "line", "strokeWidth": 1.5},
              "encoding": {
                "x": {"field": "e", "type": "quantitative",
                  "scale": {"domain": [526, 540], "reverse": true, "nice": false, "zero": false},
                  "axis": {"orient": "bottom", "title": "Binding energy (eV)", "values": [526,527,528,529,530,531,532,533,534,535,536,537,538,539,540],
                    "tickSize": {"condition": {"test": "datum.value % 2 === 0", "value": -8}, "value": -4.5},
                    "labelExpr": "datum.value % 2 === 0 ? datum.label : ''", "labelPadding": 21, "titlePadding": 21}},
                "y": {"field": "v", "type": "quantitative",
                  "scale": {"domain": [0, 10], "nice": false, "zero": false},
                  "axis": {"orient": "left", "title": "Counts (a.u.)", "values": [1.25,2.5,3.75,5,6.25,7.5,8.75], "labels": false, "titlePadding": 29, "titleY": 218,
                    "tickSize": {"condition": {"test": "datum.value % 2.5 === 0", "value": -8}, "value": -4.5}}},
                "color": {"field": "s", "type": "nominal",
                  "scale": {"domain": ["Measured data", "Background"], "range": ["#000000", "#f7931e"]},
                  "legend": {"orient": "none", "legendX": 19, "legendY": 17, "title": null, "symbolType": "stroke", "symbolSize": 2704,
                    "symbolStrokeWidth": 2, "labelFontSize": 31, "labelOffset": 10, "labelLimit": 400, "clipHeight": 33, "rowPadding": 6, "padding": 0}}
              }
            },
            {
              "transform": [{"filter": "datum.s !== 'Measured data' && datum.s !== 'Background'"}],
              "mark": {"type": "line", "strokeWidth": 1.6, "interpolate": "monotone"},
              "encoding": {
                "x": {"field": "e", "type": "quantitative",
                  "scale": {"domain": [526, 540], "reverse": true, "nice": false, "zero": false},
                  "axis": {"orient": "top", "title": null, "labels": false, "values": [526,527,528,529,530,531,532,533,534,535,536,537,538,539,540],
                    "tickSize": {"condition": {"test": "datum.value % 2 === 0", "value": -8}, "value": -4.5}}},
                "y": {"field": "v", "type": "quantitative",
                  "scale": {"domain": [0, 10], "nice": false, "zero": false},
                  "axis": {"orient": "right", "title": null, "labels": false, "values": [1.25,2.5,3.75,5,6.25,7.5,8.75],
                    "tickSize": {"condition": {"test": "datum.value % 2.5 === 0", "value": -8}, "value": -4.5}}},
                "stroke": {"field": "s", "type": "nominal",
                  "scale": {"domain": ["M=O", "M-OH", "Adsorbed OH", "Adsorbed H₂O", "Overall fit"], "range": ["#e51a1a", "#7b35e0", "#1f1fd1", "#218a21", "#e41ee4"]},
                  "legend": {"orient": "none", "legendX": 19, "legendY": 100, "title": "Peak fitting:", "titleFontSize": 31, "titleFontWeight": "bold",
                    "titlePadding": 4, "titleLimit": 400, "symbolType": "stroke", "symbolSize": 2704, "symbolStrokeWidth": 2,
                    "labelFontSize": 31, "labelOffset": 10, "labelLimit": 400, "clipHeight": 33, "rowPadding": 6, "padding": 0}}
              }
            },
            {
              "data": {"values": [{}]},
              "mark": {"type": "text", "text": "P1", "fontSize": 31, "fontWeight": "bold", "color": "#22e3ea", "align": "center", "baseline": "middle"},
              "encoding": {
                "x": {"datum": 526.83, "type": "quantitative", "axis": null},
                "y": {"datum": 9.36, "type": "quantitative", "axis": null}
              }
            }
          ]
        },
        {
          "title": {"text": "(c)", "anchor": "start", "frame": "group", "dx": -65, "offset": 10, "fontSize": 30, "fontWeight": "bold"},
          "width": 605,
          "height": 488,
          "resolve": {"axis": {"x": "independent", "y": "independent"}},
          "layer": [
            {
              "data": {"name": "fit"},
              "mark": {"type": "line", "color": "black", "strokeWidth": 1.8, "interpolate": "monotone"},
              "encoding": {
                "x": {"field": "x", "type": "quantitative", "scale": {"domain": [0, 100], "nice": false},
                  "axis": {"orient": "bottom", "title": "Hydroxide functionality on the surface (%)", "values": [0,10,20,30,40,50,60,70,80,90,100],
                    "tickSize": {"condition": {"test": "datum.value % 20 === 0", "value": -8}, "value": -4.5},
                    "labelExpr": "datum.value % 20 === 0 ? datum.label : ''", "labelPadding": 21, "titlePadding": 17}},
                "y": {"field": "y", "type": "quantitative", "scale": {"domain": [0, 10], "nice": false},
                  "axis": {"orient": "left", "title": "|Adhesive pressure| (mN/mm²)", "values": [0,1,2,3,4,5,6,7,8,9,10],
                    "tickSize": {"condition": {"test": "datum.value % 2 === 0", "value": -8}, "value": -4.5},
                    "labelExpr": "datum.value % 2 === 0 ? datum.label : ''", "labelPadding": 18, "titlePadding": 22, "titleY": 218}}
              }
            },
            {
              "data": {"name": "arrow"},
              "mark": {"type": "rule", "color": "#2ee6e6", "strokeWidth": 2},
              "encoding": {
                "x": {"field": "x", "type": "quantitative",
                  "axis": {"orient": "top", "title": null, "labels": false, "values": [0,10,20,30,40,50,60,70,80,90,100],
                    "tickSize": {"condition": {"test": "datum.value % 20 === 0", "value": -8}, "value": -4.5}}},
                "y": {"field": "y", "type": "quantitative",
                  "axis": {"orient": "right", "title": null, "labels": false, "values": [0,1,2,3,4,5,6,7,8,9,10],
                    "tickSize": {"condition": {"test": "datum.value % 2 === 0", "value": -8}, "value": -4.5}}},
                "x2": {"field": "x2"},
                "y2": {"field": "y2"}
              }
            },
            {
              "data": {"name": "arrow"},
              "mark": {"type": "point", "shape": "triangle-right", "filled": true, "color": "#2ee6e6", "size": 60, "opacity": 1},
              "encoding": {
                "x": {"field": "hx", "type": "quantitative", "axis": null},
                "y": {"field": "hy", "type": "quantitative", "axis": null}
              }
            },
            {
              "data": {"name": "avg"},
              "mark": {"type": "errorbar", "ticks": {"size": 10, "color": "black", "thickness": 1.5}, "rule": {"color": "black", "strokeWidth": 1.5}},
              "encoding": {
                "x": {"field": "xlo", "type": "quantitative", "axis": null},
                "x2": {"field": "xhi"},
                "y": {"field": "y", "type": "quantitative", "axis": null}
              }
            },
            {
              "data": {"name": "avg"},
              "transform": [{"filter": "datum.id !== 'Rav'"}],
              "mark": {"type": "errorbar", "ticks": {"size": 9, "color": "black", "thickness": 1.5}, "rule": {"color": "black", "strokeWidth": 1.5}},
              "encoding": {
                "y": {"field": "ylo", "type": "quantitative", "axis": null},
                "y2": {"field": "yhi"},
                "x": {"field": "x", "type": "quantitative", "axis": null}
              }
            },
            {
              "data": {"name": "avg"},
              "mark": {"type": "circle", "size": 70, "opacity": 1},
              "encoding": {
                "x": {"field": "x", "type": "quantitative", "axis": null},
                "y": {"field": "y", "type": "quantitative", "axis": null},
                "color": {"field": "g", "type": "nominal", "legend": null,
                  "scale": {"domain": ["T", "P", "Tav", "Pav", "Rav"], "range": ["#ee1c1c", "#2ee6e6", "#7d0a0a", "#1414c8", "#000000"]}}
              }
            },
            {
              "data": {"name": "pts"},
              "mark": {"type": "circle", "size": 70, "opacity": 1},
              "encoding": {
                "x": {"field": "x", "type": "quantitative", "axis": null},
                "y": {"field": "y", "type": "quantitative", "axis": null},
                "color": {"field": "g", "type": "nominal", "legend": null}
              }
            },
            {
              "data": {"name": "pts"},
              "transform": [{"filter": "indexof(['T2','T3','T4','P2'], datum.id) >= 0"}],
              "mark": {"type": "text", "fontSize": 32, "align": "center", "baseline": "middle", "dy": 25},
              "encoding": {
                "x": {"field": "x", "type": "quantitative", "axis": null},
                "y": {"field": "y", "type": "quantitative", "axis": null},
                "text": {"field": "id"},
                "color": {"field": "g", "type": "nominal", "legend": null}
              }
            },
            {
              "data": {"name": "pts"},
              "transform": [{"filter": "datum.id === 'T5'"}],
              "mark": {"type": "text", "fontSize": 32, "align": "right", "baseline": "middle", "dx": -8, "dy": -9},
              "encoding": {
                "x": {"field": "x", "type": "quantitative", "axis": null},
                "y": {"field": "y", "type": "quantitative", "axis": null},
                "text": {"field": "id"},
                "color": {"field": "g", "type": "nominal", "legend": null}
              }
            },
            {
              "data": {"name": "pts"},
              "transform": [{"filter": "datum.id === 'T1'"}],
              "mark": {"type": "text", "fontSize": 32, "align": "right", "baseline": "middle", "dx": -8, "dy": 8},
              "encoding": {
                "x": {"field": "x", "type": "quantitative", "axis": null},
                "y": {"field": "y", "type": "quantitative", "axis": null},
                "text": {"field": "id"},
                "color": {"field": "g", "type": "nominal", "legend": null}
              }
            },
            {
              "data": {"name": "pts"},
              "transform": [{"filter": "datum.id === 'P1'"}],
              "mark": {"type": "text", "fontSize": 32, "align": "right", "baseline": "middle", "dx": -48, "dy": -3},
              "encoding": {
                "x": {"field": "x", "type": "quantitative", "axis": null},
                "y": {"field": "y", "type": "quantitative", "axis": null},
                "text": {"field": "id"},
                "color": {"field": "g", "type": "nominal", "legend": null}
              }
            },
            {
              "data": {"name": "pts"},
              "transform": [{"filter": "datum.id === 'P3'"}],
              "mark": {"type": "text", "fontSize": 32, "align": "left", "baseline": "middle", "dx": 9, "dy": 1},
              "encoding": {
                "x": {"field": "x", "type": "quantitative", "axis": null},
                "y": {"field": "y", "type": "quantitative", "axis": null},
                "text": {"field": "id"},
                "color": {"field": "g", "type": "nominal", "legend": null}
              }
            },
            {
              "data": {"name": "pts"},
              "transform": [{"filter": "datum.id === 'P4'"}],
              "mark": {"type": "text", "fontSize": 32, "align": "center", "baseline": "middle", "dy": -20},
              "encoding": {
                "x": {"field": "x", "type": "quantitative", "axis": null},
                "y": {"field": "y", "type": "quantitative", "axis": null},
                "text": {"field": "id"},
                "color": {"field": "g", "type": "nominal", "legend": null}
              }
            },
            {
              "data": {"name": "avg"},
              "transform": [{"filter": "datum.id === 'Tav'"}],
              "layer": [
                {"mark": {"type": "text", "fontSize": 33, "align": "center", "baseline": "middle", "dx": -7, "dy": -42},
                 "encoding": {"text": {"field": "letter"}}},
                {"mark": {"type": "text", "fontSize": 23, "align": "center", "baseline": "middle", "dx": 17, "dy": -25, "text": "av."},
                 "encoding": {}}
              ],
              "encoding": {
                "x": {"field": "x", "type": "quantitative", "axis": null},
                "y": {"field": "y", "type": "quantitative", "axis": null},
                "color": {"field": "g", "type": "nominal", "legend": null}
              }
            },
            {
              "data": {"name": "avg"},
              "transform": [{"filter": "datum.id === 'Pav'"}],
              "layer": [
                {"mark": {"type": "text", "fontSize": 33, "align": "center", "baseline": "middle", "dx": 18, "dy": 31},
                 "encoding": {"text": {"field": "letter"}}},
                {"mark": {"type": "text", "fontSize": 23, "align": "center", "baseline": "middle", "dx": 47, "dy": 45, "text": "av."},
                 "encoding": {}}
              ],
              "encoding": {
                "x": {"field": "x", "type": "quantitative", "axis": null},
                "y": {"field": "y", "type": "quantitative", "axis": null},
                "color": {"field": "g", "type": "nominal", "legend": null}
              }
            },
            {
              "data": {"name": "avg"},
              "transform": [{"filter": "datum.id === 'Rav'"}],
              "layer": [
                {"mark": {"type": "text", "fontSize": 33, "align": "center", "baseline": "middle", "dx": -11, "dy": -28},
                 "encoding": {"text": {"field": "letter"}}},
                {"mark": {"type": "text", "fontSize": 23, "align": "center", "baseline": "middle", "dx": 17, "dy": -15, "text": "av."},
                 "encoding": {}}
              ],
              "encoding": {
                "x": {"field": "x", "type": "quantitative", "axis": null},
                "y": {"field": "y", "type": "quantitative", "axis": null},
                "color": {"field": "g", "type": "nominal", "legend": null}
              }
            }
          ]
        }
      ]
    }
  ]
}
